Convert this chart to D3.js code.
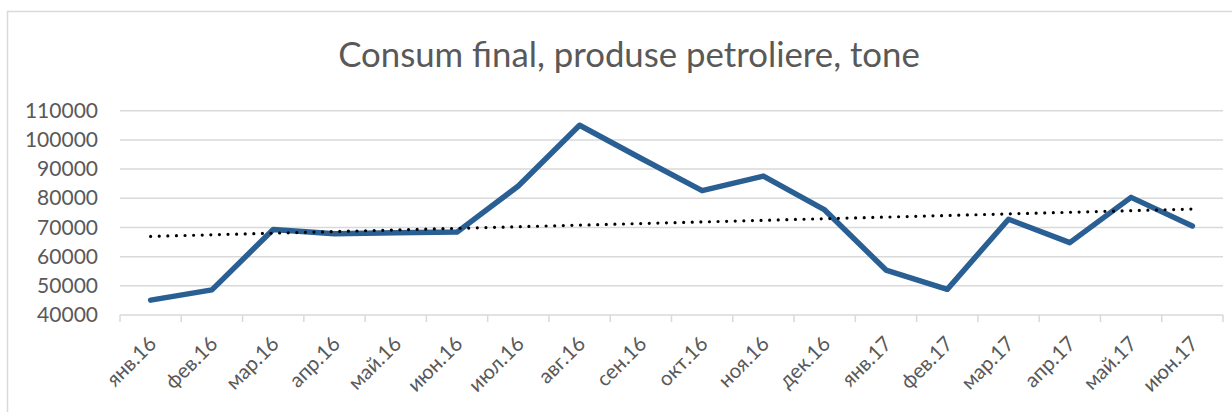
<!DOCTYPE html>
<html>
<head>
<meta charset="utf-8">
<script src="https://cdn.jsdelivr.net/npm/d3@7"></script>
<style>
  html, body { margin: 0; padding: 0; background: #fff; }
  svg { display: block; }
</style>
</head>
<body>
<svg id="chart" width="1232" height="412"></svg>
<script>
const categories = ["янв.16","фев.16","мар.16","апр.16","май.16","июн.16","июл.16","авг.16","сен.16","окт.16","ноя.16","дек.16","янв.17","фев.17","мар.17","апр.17","май.17","июн.17"];
const values = [45100, 48600, 69300, 67800, 68200, 68400, 84200, 105000, 93700, 82600, 87600, 76000, 55400, 48800, 72800, 64800, 80300, 70500];
const yTicks = [40000, 50000, 60000, 70000, 80000, 90000, 100000, 110000];
const title = "Consum final, produse petroliere, tone";

const svg = d3.select("#chart");
const font = "Lato, 'Open Sans', sans-serif";
const textColor = "#595959";
const gridColor = "#d9d9d9";

// chart border
svg.append("rect").attr("x", 7.5).attr("y", 11.5).attr("width", 1240).attr("height", 420)
  .attr("fill", "none").attr("stroke", gridColor).attr("stroke-width", 1.5);

const pLeft = 120, pRight = 1223, pTop = 110.7, pBottom = 315;

const xBand = d3.scaleBand().domain(categories).range([pLeft, pRight]).padding(0);
const x = d => xBand(d) + xBand.bandwidth() / 2;
const y = d3.scaleLinear().domain([40000, 110000]).range([pBottom, pTop]);

// gridlines
svg.append("g").selectAll("line").data(yTicks.slice(1)).join("line")
  .attr("x1", pLeft).attr("x2", pRight)
  .attr("y1", d => y(d)).attr("y2", d => y(d))
  .attr("stroke", gridColor).attr("stroke-width", 1.5);

// y axis labels
const yAxis = d3.axisLeft(y).tickValues(yTicks).tickSize(0).tickPadding(0).tickFormat(d3.format("d"));
const gy = svg.append("g").attr("transform", `translate(98,0)`).call(yAxis);
gy.select(".domain").remove();
gy.selectAll("text").attr("fill", textColor).style("font-family", font).style("font-size", "21px");

// x axis
const xAxis = d3.axisBottom(xBand).tickSize(0).tickFormat("");
const gx = svg.append("g").attr("transform", `translate(0,${pBottom})`).call(xAxis);
gx.select(".domain").attr("stroke", gridColor).attr("stroke-width", 1.5).attr("d", `M${pLeft},0H${pRight}`);
gx.selectAll(".tick").remove();
const edges = categories.map(c => xBand(c)).concat([pRight]);
gx.selectAll("line.edge").data(edges).join("line").attr("class", "edge")
  .attr("x1", d => d).attr("x2", d => d).attr("y1", 0).attr("y2", 7)
  .attr("stroke", gridColor).attr("stroke-width", 1.5);

svg.append("g").selectAll("text").data(categories).join("text")
  .attr("transform", d => `translate(${x(d) + 7},${pBottom + 30}) rotate(-45)`)
  .attr("text-anchor", "end")
  .attr("fill", textColor).style("font-family", font).style("font-size", "20.5px")
  .text(d => d);

// data line
const line = d3.line().x((d, i) => x(categories[i])).y(d => y(d));
svg.append("path").datum(values).attr("d", line)
  .attr("fill", "none").attr("stroke", "#2a5f94").attr("stroke-width", 5.5)
  .attr("stroke-linejoin", "round").attr("stroke-linecap", "round");

// linear trendline (least squares)
const n = values.length;
const xs = d3.range(n);
const mx = d3.mean(xs), my = d3.mean(values);
const slope = d3.sum(xs, i => (i - mx) * (values[i] - my)) / d3.sum(xs, i => (i - mx) * (i - mx));
const icpt = my - slope * mx;
const trend = [icpt, icpt + slope * (n - 1)];
svg.append("line")
  .attr("x1", x(categories[0])).attr("x2", x(categories[n - 1]))
  .attr("y1", y(trend[0])).attr("y2", y(trend[1]))
  .attr("stroke", "#000").attr("stroke-width", 3.2)
  .attr("stroke-dasharray", "0,8.6").attr("stroke-linecap", "round");

// title
const t = svg.append("text").attr("x", 629).attr("y", 67).attr("text-anchor", "middle")
  .attr("fill", textColor).style("font-family", font).style("font-size", "29px").style("font-weight", 400)
  .text(title);
const w = t.node().getComputedTextLength();
t.style("font-size", (29 * 582 / w) + "px");
</script>
</body>
</html>
